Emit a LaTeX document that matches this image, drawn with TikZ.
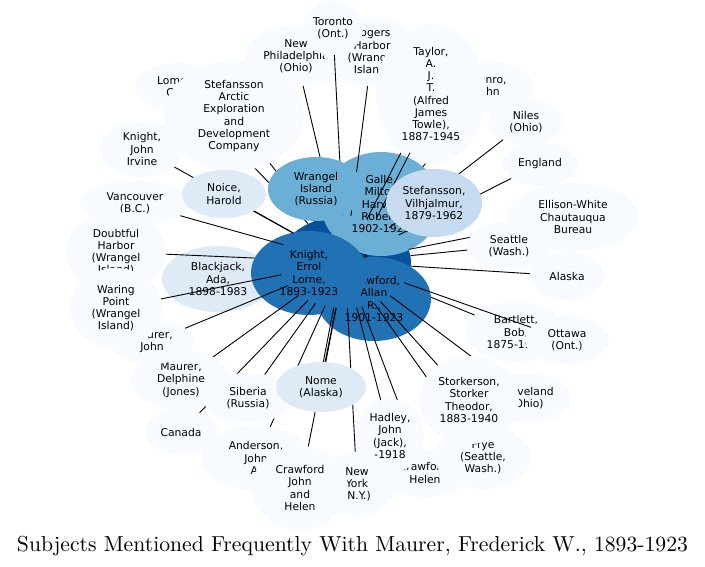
\documentclass[tikz,border=0pt]{standalone}
\usepackage{fontspec}
\usepackage{graphicx}
\usetikzlibrary{shapes.geometric}
\newfontfamily\dvs{DejaVu Sans}
\definecolor{bA}{HTML}{F7FBFF}
\definecolor{bB}{HTML}{DEEBF7}
\definecolor{bC}{HTML}{C6DBEF}
\definecolor{bE}{HTML}{6BAED6}
\definecolor{bG}{HTML}{2171B5}
\definecolor{bH}{HTML}{08519C}
\pgfdeclarelayer{deepa}
\pgfdeclarelayer{outer}
\pgfdeclarelayer{deepb}
\pgfdeclarelayer{corea}
\pgfdeclarelayer{mid}
\pgfdeclarelayer{coreb}
\pgfsetlayers{deepa,outer,deepb,corea,mid,coreb,main}
\begin{document}
\begin{tikzpicture}[x=1pt,y=-1pt,
  bub/.style n args={3}{ellipse, draw=none, fill=#3, minimum width=#1, minimum height=#2, inner sep=0pt, align=center, text=black, font=\dvs\fontsize{10.75pt}{12.2pt}\selectfont},
  link/.style={draw=black, line width=0.9pt}]
\useasboundingbox (0,0) rectangle (705,567);

% ---------- outer (light) nodes ----------
\begin{pgfonlayer}{outer}
\node[bub={104pt}{60pt}{bA}] (newphil) at (296,56) {New\\Philadelphia\\(Ohio)};
\node[bub={96pt}{68pt}{bA}] (rogers) at (372,52) {Rogers\\Harbor\\(Wrangel\\Island)};
\node[bub={60pt}{54pt}{bA}] (toronto) at (333,28) {Toronto\\(Ont.)};
\node[bub={90pt}{50pt}{bA}] (munro) at (488,87) {Munro,\\John};
\node[bub={110pt}{140pt}{bA}] (taylor) at (431,94) {Taylor,\\A.\\J.\\T.\\(Alfred\\James\\Towle),\\1887-1945};
\node[bub={84pt}{48pt}{bA}] (lomen) at (177,87) {Lomen,\\Carl};
\node[bub={140pt}{110pt}{bA}] (stefarctic) at (234,116) {Stefansson\\Arctic\\Exploration\\and\\Development\\Company};
\node[bub={84pt}{56pt}{bA}] (knightji) at (142,149) {Knight,\\John\\Irvine};
\node[bub={110pt}{44pt}{bA}] (vancouver) at (135,203) {Vancouver\\(B.C.)};
\node[bub={100pt}{60pt}{bA}] (delphine) at (181,380) {Maurer,\\Delphine\\(Jones)};
\node[bub={84pt}{44pt}{bA}] (maurerjohn) at (152,342) {Maurer,\\John};
\node[bub={100pt}{80pt}{bA}] (doubtful) at (116,252) {Doubtful\\Harbor\\(Wrangel\\Island)};
\node[bub={92pt}{80pt}{bA}] (waring) at (116,308) {Waring\\Point\\(Wrangel\\Island)};
\node[bub={112pt}{66pt}{bB}] (blackjack) at (218,279) {Blackjack,\\Ada,\\1898-1983};
\node[bub={74pt}{44pt}{bA}] (canada) at (181,432) {Canada};
\node[bub={110pt}{64pt}{bA}] (anderson) at (256,458) {Anderson,\\John\\A.};
\node[bub={76pt}{64pt}{bA}] (newyork) at (357,484) {New\\York\\(N.Y.)};
\node[bub={96pt}{84pt}{bA}] (crawfordjh) at (300,488) {Crawford\\John\\and\\Helen};
\node[bub={90pt}{48pt}{bA}] (crawfordhelen) at (425,473) {Crawford,\\Helen};
\node[bub={96pt}{64pt}{bA}] (frye) at (483,457) {Frye\\(Seattle,\\Wash.)};
\node[bub={90pt}{48pt}{bA}] (cleveland) at (527,398) {Cleveland\\(Ohio)};
\node[bub={100pt}{60pt}{bA}] (bartlett) at (516,332) {Bartlett,\\Bob,\\1875-1946};
\node[bub={84pt}{48pt}{bA}] (ottawa) at (567,340) {Ottawa\\(Ont.)};
\node[bub={74pt}{48pt}{bA}] (alaska) at (567,276) {Alaska};
\node[bub={132pt}{68pt}{bA}] (ellison) at (573,217) {Ellison-White\\Chautauqua\\Bureau};
\node[bub={76pt}{44pt}{bA}] (england) at (540,164) {England};
\node[bub={76pt}{44pt}{bA}] (niles) at (526,122) {Niles\\(Ohio)};
\end{pgfonlayer}

% ---------- central nodes, first group ----------
\begin{pgfonlayer}{corea}
\node[bub={132pt}{92pt}{bH}] (maurer) at (345,262) {Maurer,\\Frederick\\W.,\\1893-1923};
\node[bub={120pt}{104pt}{bE}] (galle) at (381,204) {Galle,\\Milton\\Harvey\\Robert,\\1902-1923};
\node[bub={114pt}{84pt}{bG}] (crawford) at (374,299) {Crawford,\\Allan\\R.,\\1901-1923};
\node[bub={116pt}{84pt}{bG}] (knight) at (309,273) {Knight,\\Errol\\Lorne,\\1893-1923};
\end{pgfonlayer}

% ---------- central nodes, second group ----------
\begin{pgfonlayer}{coreb}
\node[bub={90pt}{50pt}{bA}] (siberia) at (248,398) {Siberia\\(Russia)};
\node[bub={90pt}{50pt}{bB}] (nome) at (321,387) {Nome\\(Alaska)};
\node[bub={100pt}{88pt}{bA}] (storkerson) at (469,400) {Storkerson,\\Storker\\Theodor,\\1883-1940};
\node[bub={68pt}{74pt}{bA}] (hadley) at (390,436) {Hadley,\\John\\(Jack),\\-1918};
\node[bub={84pt}{48pt}{bA}] (seattle) at (509,246) {Seattle\\(Wash.)};
\node[bub={84pt}{48pt}{bB}] (noice) at (224,194) {Noice,\\Harold};
\node[bub={96pt}{64pt}{bE}] (wrangel) at (316,189) {Wrangel\\Island\\(Russia)};
\node[bub={96pt}{68pt}{bC}] (stefv) at (434,203) {Stefansson,\\Vilhjalmur,\\1879-1962};
\end{pgfonlayer}

% ---------- connectors hidden below the outer nodes ----------
\begin{pgfonlayer}{deepa}
\draw[link] (maurer) -- (lomen);
\draw[link] (maurer) -- (munro);
\end{pgfonlayer}

% ---------- connectors over the outer nodes, below the central ones ----------
\begin{pgfonlayer}{deepb}
\draw[link] (maurer) -- (doubtful);
\draw[link] (maurer) -- (bartlett);
\end{pgfonlayer}

% ---------- connectors over the first central group ----------
\begin{pgfonlayer}{mid}
\draw[link] (maurer) -- (toronto);
\draw[link] (maurer) -- (newphil);
\draw[link] (maurer) -- (rogers);
\draw[link] (maurer) -- (stefarctic);
\draw[link] (maurer) -- (taylor);
\draw[link, transform canvas={xshift=9pt}] (maurer) -- (taylor);
\draw[link] (maurer) -- (niles);
\draw[link] (maurer) -- (england);
\draw[link] (maurer) -- (ellison);
\draw[link] (maurer) -- (seattle);
\draw[link] (maurer) -- (alaska);
\draw[link] (maurer) -- (ottawa);
\draw[link] (maurer) -- (storkerson);
\draw[link] (maurer) -- (frye);
\draw[link] (maurer) -- (cleveland);
\draw[link] (maurer) -- (hadley);
\draw[link] (maurer) -- (crawfordhelen);
\draw[link] (maurer) -- (newyork);
\draw[link] (maurer) -- (crawfordjh);
\draw[link] (maurer) -- (nome);
\draw[link, transform canvas={xshift=-2.5pt}] (maurer) -- (nome);
\draw[link] (maurer) -- (anderson);
\draw[link] (maurer) -- (siberia);
\draw[link] (maurer) -- (canada);
\draw[link] (maurer) -- (delphine);
\draw[link] (maurer) -- (maurerjohn);
\draw[link] (maurer) -- (waring);
\draw[link] (maurer) -- (vancouver);
\draw[link] (maurer) -- (knightji);
\draw[link] (maurer) -- (noice);
\end{pgfonlayer}

% ---------- title ----------
\node[anchor=base, inner sep=0pt] (title) at (352.5,551)
  {\resizebox{671pt}{!}{Subjects Mentioned Frequently With Maurer, Frederick W., 1893-1923}};
\end{tikzpicture}
\end{document}
